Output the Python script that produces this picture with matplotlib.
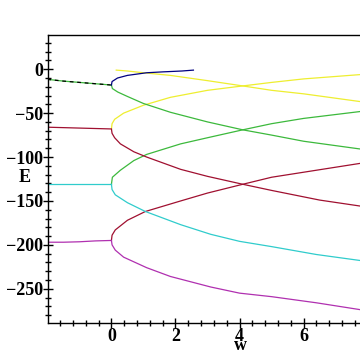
import matplotlib
matplotlib.use("Agg")
import matplotlib.pyplot as plt
from matplotlib.ticker import MultipleLocator

# flat part, w < 0
w_left = [-2.0, -1.5, -1.0, -0.5, 0.0]
E1_left = [-11.5, -13.5, -15.0, -16.5, -18.0]
E2_left = [-66.0, -66.5, -67.0, -67.5, -68.0]
E3_left = [-131.0, -131.0, -131.0, -131.0, -131.0]
E4_left = [-197.0, -197.0, -196.5, -195.5, -195.0]

# branches for w > 0
w_blue = [0.0, 0.02, 0.19, 0.5, 1.1, 1.6, 2.2, 2.56]
E_blue = [-18.0, -14.0, -10.0, -7.0, -4.0, -3.0, -2.0, -1.0]

w_g1 = [0.0, 0.03, 0.2, 0.5, 1.0, 1.84, 3.0, 4.1, 5.0, 6.0, 7.8]
E_g1 = [-18.0, -22.0, -26.0, -31.0, -39.0, -49.0, -60.0, -69.0, -75.0, -82.0, -91.0]

w_g2 = [0.0, 0.03, 0.28, 0.7, 1.1, 2.16, 3.0, 4.1, 5.0, 6.0, 7.8]
E_g2 = [-131.0, -123.0, -115.0, -104.0, -97.0, -85.0, -78.0, -69.0, -62.0, -56.0, -48.0]

w_y1 = [0.15, 0.5, 1.0, 1.84, 3.0, 4.1, 5.0, 6.0, 7.8]
E_y1 = [-1.0, -2.0, -4.0, -7.0, -13.0, -19.0, -24.0, -28.0, -37.0]

w_y2 = [0.0, 0.02, 0.1, 0.38, 1.0, 1.84, 3.0, 4.1, 5.0, 6.0, 7.8]
E_y2 = [-68.0, -62.0, -57.0, -50.0, -41.0, -32.0, -24.0, -19.0, -15.0, -11.0, -6.0]

w_r1 = [0.0, 0.02, 0.1, 0.28, 0.7, 1.1, 2.16, 3.0, 4.1, 5.0, 6.5, 7.8]
E_r1 = [-68.0, -73.0, -78.0, -85.0, -94.0, -100.0, -114.0, -122.0, -131.0, -138.0, -149.0, -156.0]

w_r2 = [0.0, 0.02, 0.12, 0.5, 1.06, 2.16, 3.0, 4.1, 5.0, 6.4, 7.8]
E_r2 = [-195.0, -189.0, -183.0, -172.0, -162.0, -150.0, -141.0, -131.0, -123.0, -115.0, -107.0]

w_c = [0.0, 0.02, 0.12, 0.5, 1.06, 2.16, 3.1, 4.0, 5.0, 6.4, 7.8]
E_c = [-131.0, -137.0, -143.0, -152.0, -162.0, -177.0, -188.0, -196.0, -202.0, -211.0, -218.0]

w_m = [0.0, 0.02, 0.12, 0.38, 1.1, 1.84, 3.1, 4.0, 5.0, 6.4, 7.8]
E_m = [-195.0, -200.0, -206.0, -214.0, -226.0, -236.0, -248.0, -255.0, -259.0, -266.0, -274.0]

navy = "#000080"
green = "#3cb93c"
yellow = "#eeee30"
red = "#a01030"
cyan = "#30cccc"
magenta = "#b030b0"

fig = plt.figure(figsize=(3.6, 3.6), dpi=100)
ax = fig.add_axes([48 / 360, 37 / 360, 312 / 360, 288 / 360])

lw = 0.9
ax.plot(w_left, E1_left, color=green, lw=lw)
ax.plot(w_left, E1_left, color="black", lw=lw, dashes=(3, 3))
ax.plot(w_left, E2_left, color=red, lw=lw)
ax.plot(w_left, E3_left, color=cyan, lw=lw)
ax.plot(w_left, E4_left, color=magenta, lw=lw)

ax.plot(w_y1, E_y1, color=yellow, lw=lw)
ax.plot(w_y2, E_y2, color=yellow, lw=lw)
ax.plot(w_g1, E_g1, color=green, lw=lw)
ax.plot(w_g2, E_g2, color=green, lw=lw)
ax.plot(w_r1, E_r1, color=red, lw=lw)
ax.plot(w_r2, E_r2, color=red, lw=lw)
ax.plot(w_c, E_c, color=cyan, lw=lw)
ax.plot(w_m, E_m, color=magenta, lw=lw)
ax.plot(w_blue, E_blue, color=navy, lw=lw)

ax.set_xlim(-1.98, 7.76)
ax.set_ylim(-289, 39)

ax.spines["right"].set_visible(False)
for s in ["left", "bottom", "top"]:
    ax.spines[s].set_linewidth(1.0)

ax.set_xticks([0, 2, 4, 6])
ax.set_yticks([0, -50, -100, -150, -200, -250])
ax.set_yticklabels(["0", "\u221250", "\u2212100", "\u2212150", "\u2212200", "\u2212250"])
ax.xaxis.set_minor_locator(MultipleLocator(0.4))
ax.yaxis.set_minor_locator(MultipleLocator(10))
ax.tick_params(which="major", direction="inout", length=7, width=1.0)
ax.tick_params(which="minor", direction="inout", length=5, width=1.0)
ax.tick_params(axis="y", pad=0)
ax.tick_params(axis="x", pad=0)

fnt = dict(family="Liberation Serif", weight="bold", size=13)
for lab in ax.get_xticklabels() + ax.get_yticklabels():
    lab.set_fontfamily("Liberation Serif")
    lab.set_fontweight("bold")
    lab.set_fontsize(13)

fig.text(25 / 360, 1 - 178 / 360, "E", ha="center", va="center", **fnt)
fig.text(240 / 360, 1 - 346 / 360, "w", ha="center", va="center", **fnt)

fig.savefig("out.png", dpi=100)
